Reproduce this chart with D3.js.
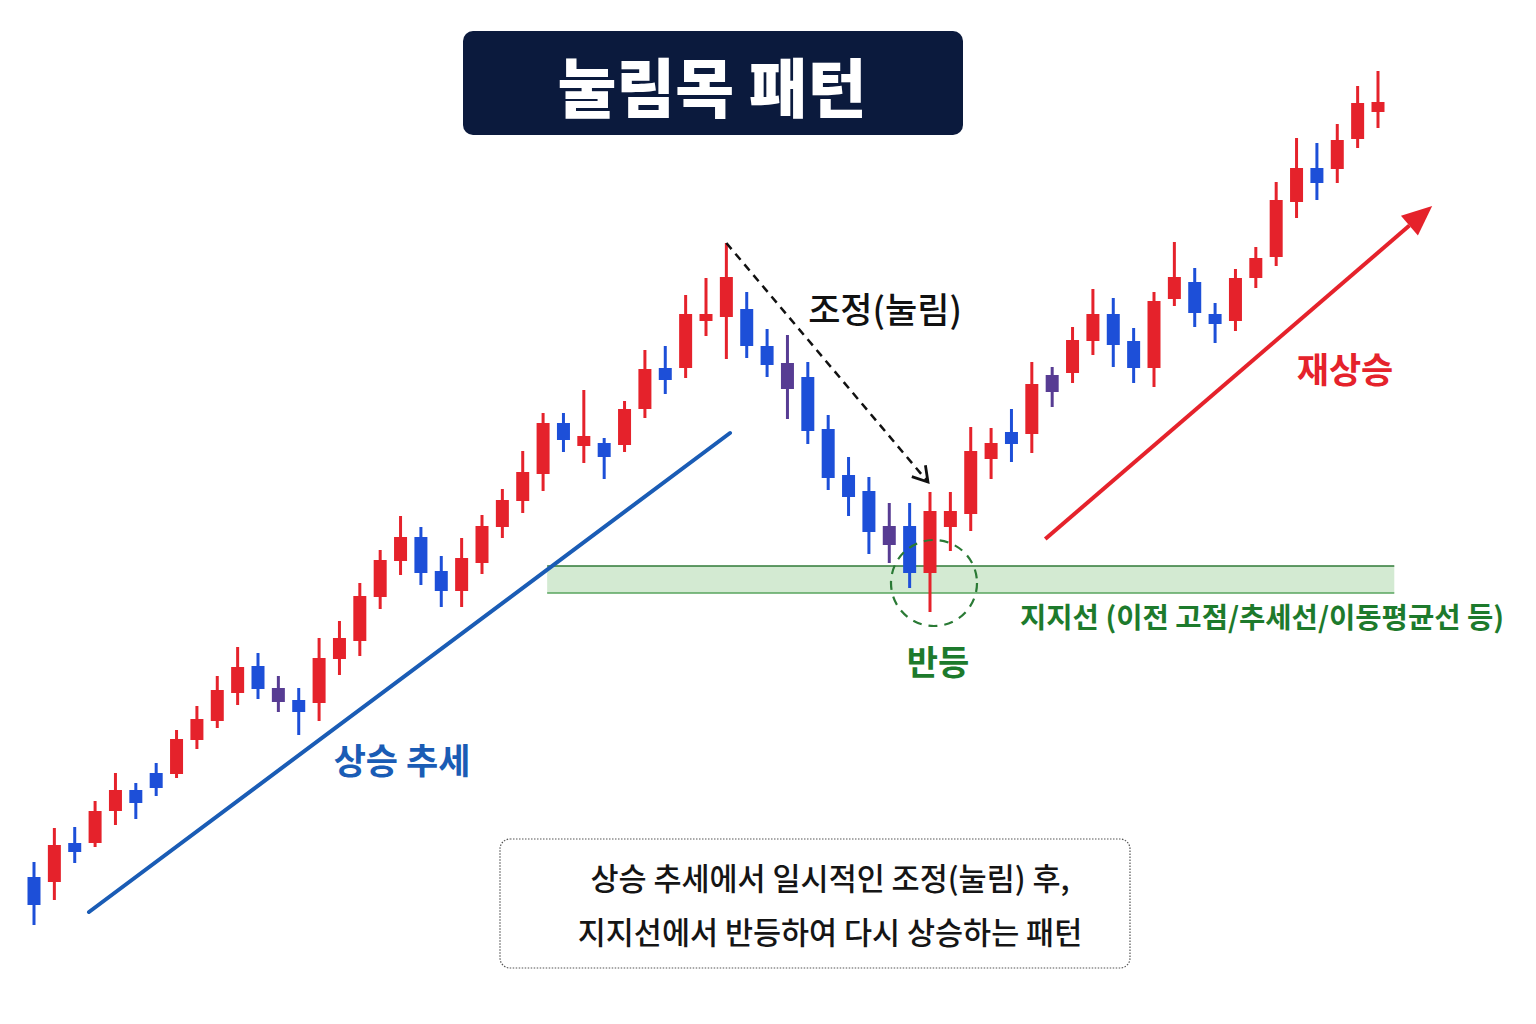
<!DOCTYPE html>
<html><head><meta charset="utf-8">
<script src="https://cdn.jsdelivr.net/npm/d3@7"></script>
<style>html,body{margin:0;padding:0;background:#fff}</style>
</head><body><svg id="chart" width="1536" height="1024"></svg>
<script>
// ---- data (price units) ----
const candleOpen  = [12.3,11.8,15.7,15.7,18.9,21.0,22.7,22.6,26.0,27.9,30.7,33.4,31.2,30.0,29.7,34.1,35.9,40.3,43.9,46.3,42.9,40.9,43.7,47.3,49.9,52.6,57.7,55.4,55.7,55.5,59.1,63.2,63.2,67.9,68.3,69.1,65.4,63.7,62.3,57.1,52.5,50.9,47.4,47.4,42.7,47.3,48.6,54.1,56.8,56.6,62.5,62.7,65.9,68.6,65.9,63.2,70.1,71.8,68.6,67.9,72.2,74.3,79.8,83.2,83.1,86.1,88.8];
const candleHigh  = [13.8,17.2,17.3,19.9,22.7,21.7,23.7,27.0,29.4,32.4,35.3,34.7,32.4,31.2,36.2,37.9,41.7,45.0,48.4,47.3,44.4,46.2,48.5,51.1,54.9,58.7,58.7,61.0,56.2,59.9,65.0,65.4,70.5,72.2,75.7,70.8,67.1,66.5,63.8,58.5,54.3,52.3,49.7,49.7,50.8,50.8,57.3,57.2,59.1,63.8,63.3,67.3,71.1,70.2,67.2,70.8,75.8,73.2,69.7,73.1,75.3,81.8,86.2,85.7,87.6,91.4,92.9];
const candleLow   = [7.5,10.0,13.7,15.3,17.5,18.1,20.4,22.2,25.1,27.2,29.5,30.1,28.8,26.5,27.9,32.5,34.4,39.1,42.5,41.5,39.3,39.3,42.6,46.2,48.7,50.9,54.8,53.7,52.1,54.8,58.2,60.6,62.2,66.4,64.1,64.2,62.3,58.1,55.6,51.0,48.4,44.6,43.7,41.2,38.8,44.9,46.9,52.1,53.8,54.7,59.3,61.7,64.5,63.3,61.7,61.3,69.4,67.3,65.7,66.9,71.2,73.4,78.2,80.0,81.7,85.2,87.2];
const candleClose = [9.5,15.5,14.8,18.9,21.0,19.7,21.2,26.1,28.1,31.0,33.3,31.1,29.8,28.8,34.2,36.2,40.4,44.0,46.3,42.7,40.9,44.2,47.4,50.0,52.8,57.7,56.0,56.4,54.3,59.1,63.1,62.0,68.6,68.6,72.3,65.4,63.5,61.1,56.9,52.2,50.3,46.8,45.5,42.7,48.9,48.9,54.9,55.7,55.6,61.6,60.8,66.0,68.6,65.5,63.2,69.9,72.3,68.7,67.6,72.2,74.2,80.0,83.2,81.7,86.0,89.7,89.8];
const indecisionCandles = [12, 37, 42, 50];   // sessions drawn in the mixed colour
const sessions = candleOpen.map((_, i) => i);

// annotation anchors, in (session, price)
const trendLine   = [[2.7, 8.8], [34.18, 56.7]];
const pullbackEnd = [43.9, 51.8];
const pullbackStartSession = 34;
const bounceSession = 44, bouncePrice = 41.7;
const supportLow = 40.7, supportHigh = 43.4, supportFrom = 25.2, supportTo = 66.8;
const reRiseArrow = [[49.66, 46.1], [68.66, 79.4]];

const titleText = "눌림목 패턴";
const labelTrend = "상승 추세";
const labelPullback = "조정(눌림)";
const labelSupport = "지지선 (이전 고점/추세선/이동평균선 등)";
const labelBounce = "반등";
const labelReRise = "재상승";
const noteLines = ["상승 추세에서 일시적인 조정(눌림) 후,", "지지선에서 반등하여 다시 상승하는 패턴"];

// ---- drawing ----
const FONT = "'Noto Sans CJK KR','Noto Sans',sans-serif";
const RED = "#e5222b", BLUE = "#1d4fd8", PURPLE = "#573c93", GREEN = "#1d7a2c", TREND = "#1a5cb5";
const svg = d3.select("#chart");
svg.append("rect").attr("width",1536).attr("height",1024).attr("fill","#fff");

const x = d3.scaleLinear().domain([0, 66]).range([34, 1378]);
const y = d3.scaleLinear().domain([0, 100]).range([1000, 0]);
const bodyW = 13;

// support band
const band = svg.append("g");
band.append("rect")
  .attr("x", x(supportFrom)).attr("y", y(supportHigh))
  .attr("width", x(supportTo) - x(supportFrom)).attr("height", y(supportLow) - y(supportHigh))
  .attr("fill", "#d3ead2");
band.append("line").attr("x1", x(supportFrom)).attr("x2", x(supportTo))
  .attr("y1", y(supportHigh)).attr("y2", y(supportHigh)).attr("stroke", "#2f7a37").attr("stroke-width", 1.6);
band.append("line").attr("x1", x(supportFrom)).attr("x2", x(supportTo))
  .attr("y1", y(supportLow)).attr("y2", y(supportLow)).attr("stroke", "#58a55e").attr("stroke-width", 1.6);

// blue up-trend line
svg.append("line")
  .attr("x1", x(trendLine[0][0])).attr("y1", y(trendLine[0][1]))
  .attr("x2", x(trendLine[1][0])).attr("y2", y(trendLine[1][1]))
  .attr("stroke", TREND).attr("stroke-width", 4).attr("stroke-linecap", "round");

// candles
const colorOf = i => indecisionCandles.includes(i) ? PURPLE : (candleClose[i] >= candleOpen[i] ? RED : BLUE);
const cg = svg.append("g").selectAll("g").data(sessions).join("g");
cg.append("line")
  .attr("x1", i => x(i)).attr("x2", i => x(i))
  .attr("y1", i => y(candleHigh[i])).attr("y2", i => y(candleLow[i]))
  .attr("stroke", colorOf).attr("stroke-width", 3);
cg.append("rect")
  .attr("x", i => x(i) - bodyW / 2)
  .attr("y", i => y(Math.max(candleOpen[i], candleClose[i])))
  .attr("width", bodyW)
  .attr("height", i => Math.max(2, Math.abs(y(candleOpen[i]) - y(candleClose[i]))))
  .attr("fill", colorOf);

// dashed pullback arrow
const pa = [x(pullbackStartSession), y(candleHigh[pullbackStartSession])];
const pb = [x(pullbackEnd[0]), y(pullbackEnd[1])];
svg.append("line").attr("x1", pa[0]).attr("y1", pa[1]).attr("x2", pb[0]).attr("y2", pb[1])
  .attr("stroke", "#111").attr("stroke-width", 2.5).attr("stroke-dasharray", "8,6");
{
  const ang = Math.atan2(pb[1] - pa[1], pb[0] - pa[0]);
  const L = 17, spread = 0.55;
  const pts = [
    [pb[0] - L * Math.cos(ang - spread), pb[1] - L * Math.sin(ang - spread)],
    pb,
    [pb[0] - L * Math.cos(ang + spread), pb[1] - L * Math.sin(ang + spread)]
  ];
  svg.append("path").attr("d", d3.line()(pts)).attr("fill", "none")
    .attr("stroke", "#111").attr("stroke-width", 2.8);
}

// bounce circle
svg.append("circle").attr("cx", x(bounceSession) + 4).attr("cy", y(bouncePrice)).attr("r", 43)
  .attr("fill", "none").attr("stroke", "#2a7a35").attr("stroke-width", 2.2).attr("stroke-dasharray", "9,7");

// red re-rise arrow
{
  const a = [x(reRiseArrow[0][0]), y(reRiseArrow[0][1])];
  const b = [x(reRiseArrow[1][0]), y(reRiseArrow[1][1])];
  const ang = Math.atan2(b[1] - a[1], b[0] - a[0]);
  const L = 30, W = 13;
  const base = [b[0] - L * Math.cos(ang), b[1] - L * Math.sin(ang)];
  svg.append("line").attr("x1", a[0]).attr("y1", a[1]).attr("x2", base[0]).attr("y2", base[1])
    .attr("stroke", RED).attr("stroke-width", 4);
  const p1 = [base[0] + W * Math.sin(ang), base[1] - W * Math.cos(ang)];
  const p2 = [base[0] - W * Math.sin(ang), base[1] + W * Math.cos(ang)];
  svg.append("path").attr("d", "M" + b + "L" + p1 + "L" + p2 + "Z").attr("fill", RED);
}

// title
svg.append("rect").attr("x", 463).attr("y", 31).attr("width", 500).attr("height", 104)
  .attr("rx", 10).attr("fill", "#0b1a3d");
svg.append("text").attr("x", 712).attr("y", 84).attr("text-anchor", "middle")
  .attr("dominant-baseline", "central").attr("fill", "#fff")
  .attr("font-family", FONT).attr("font-weight", 900).attr("font-size", 64).text(titleText);

// labels
const label = (t, xx, yy, size, color, weight, anchor) =>
  svg.append("text").attr("x", xx).attr("y", yy).attr("text-anchor", anchor || "middle")
    .attr("dominant-baseline", "central").attr("fill", color)
    .attr("font-family", FONT).attr("font-weight", weight).attr("font-size", size).text(t);

label(labelTrend, 402, 758, 35, TREND, 700);
label(labelPullback, 885, 307, 35, "#111", 500);
label(labelSupport, 1020, 615, 28.6, GREEN, 700, "start");
label(labelBounce, x(bounceSession) + 8, 660, 34, GREEN, 700);
label(labelReRise, 1345, 367, 35, RED, 700);

// note box
svg.append("rect").attr("x", 500).attr("y", 839).attr("width", 630).attr("height", 129)
  .attr("rx", 10).attr("fill", "#fff").attr("stroke", "#555").attr("stroke-width", 1.2)
  .attr("stroke-dasharray", "1.5,1.5");
noteLines.forEach((t, k) => label(t, 830, 877 + k * 54, 30.5, "#151515", 500));
</script></body></html>
